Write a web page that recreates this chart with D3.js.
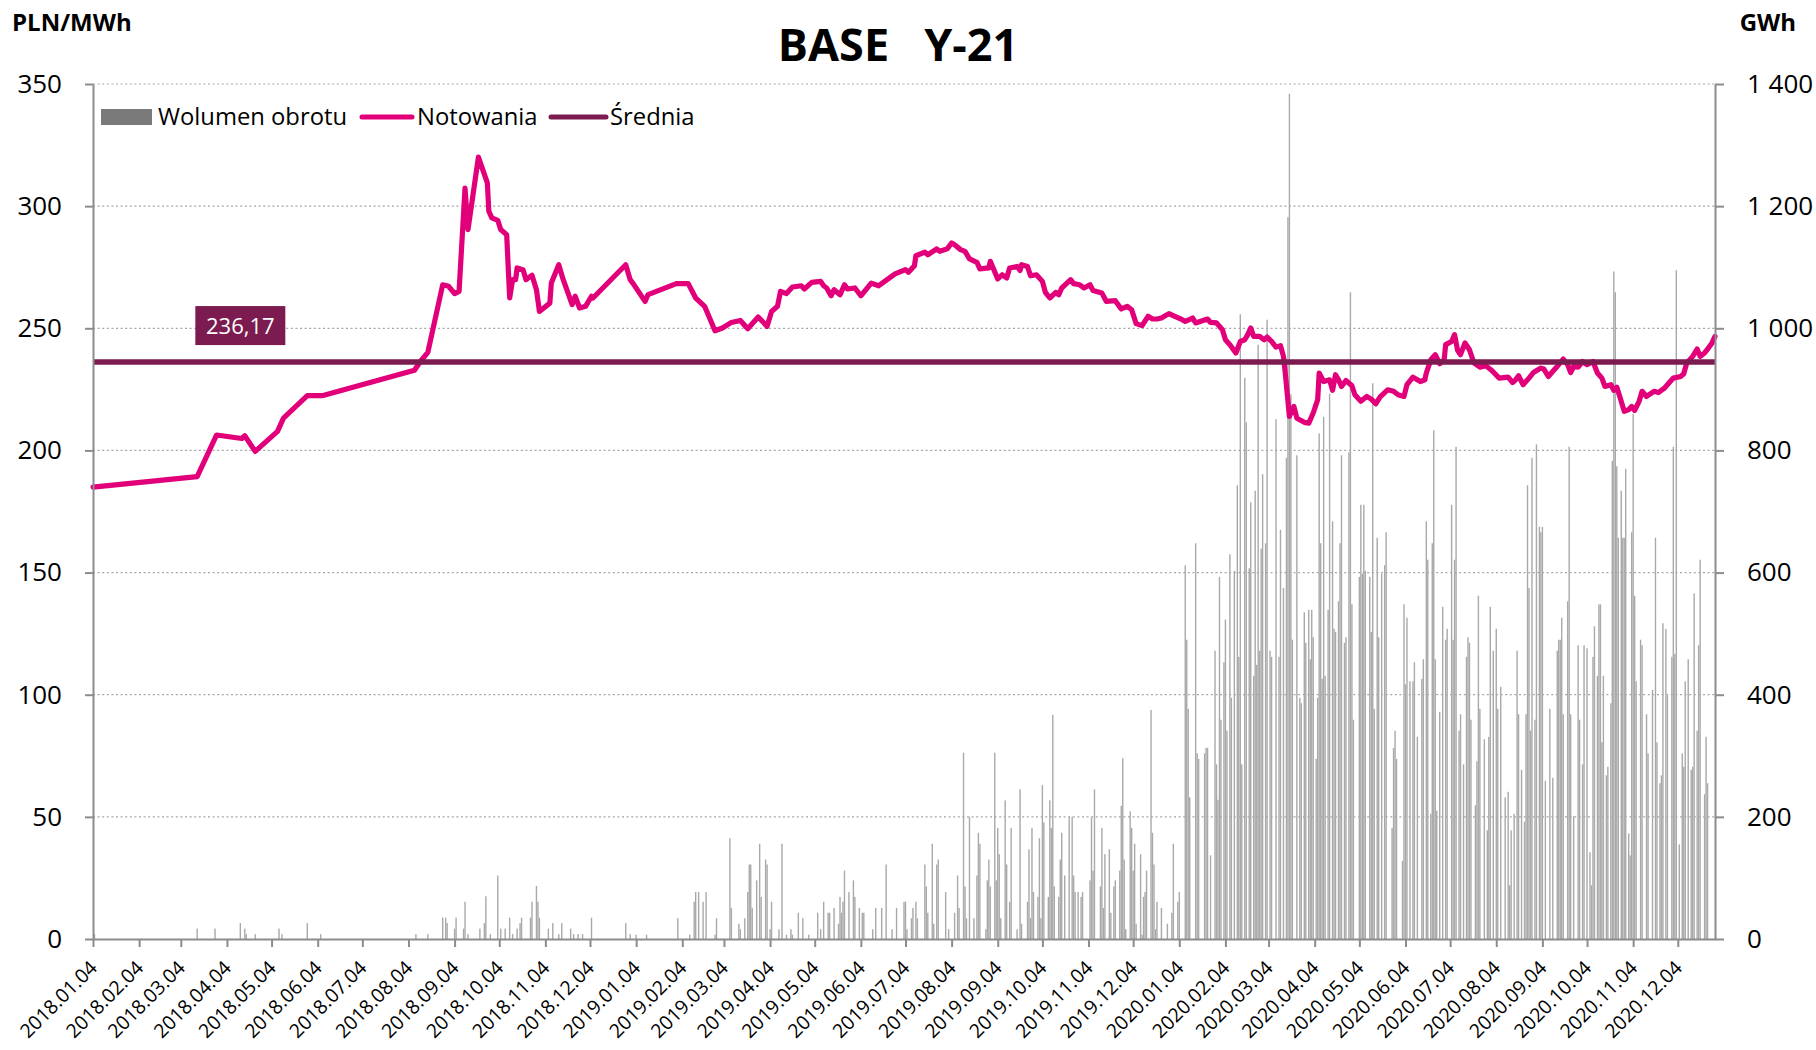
<!DOCTYPE html>
<html>
<head>
<meta charset="utf-8">
<script src="https://cdn.jsdelivr.net/npm/d3@7"></script>
<style>
  body { margin: 0; background: #fff; }
  text { font-family: "Open Sans", "Noto Sans", sans-serif; fill: #000; }
</style>
</head>
<body>
<svg id="chart" width="1816" height="1050"></svg>
<script>
// ---- data -------------------------------------------------------------
const chartTitle = "BASE   Y-21";
const leftUnit = "PLN/MWh";
const rightUnit = "GWh";
const legendLabels = ["Wolumen obrotu", "Notowania", "Średnia"];
const meanValue = 236.17;

const priceTicks = [0, 50, 100, 150, 200, 250, 300, 350];
const volumeTicks = [0, 200, 400, 600, 800, 1000, 1200, 1400];
const monthTickLabels = [
  "2018.01.04","2018.02.04","2018.03.04","2018.04.04","2018.05.04","2018.06.04",
  "2018.07.04","2018.08.04","2018.09.04","2018.10.04","2018.11.04","2018.12.04",
  "2019.01.04","2019.02.04","2019.03.04","2019.04.04","2019.05.04","2019.06.04",
  "2019.07.04","2019.08.04","2019.09.04","2019.10.04","2019.11.04","2019.12.04",
  "2020.01.04","2020.02.04","2020.03.04","2020.04.04","2020.05.04","2020.06.04",
  "2020.07.04","2020.08.04","2020.09.04","2020.10.04","2020.11.04","2020.12.04"
];

// Quotation of the BASE Y-21 contract [date, PLN/MWh]
const quotes = [
  ["2018-01-04",185.0],["2018-03-15",189.3],["2018-03-28",206.3],["2018-04-14",204.9],["2018-04-16",206.0],
  ["2018-04-23",199.6],["2018-05-08",207.8],["2018-05-12",213.2],["2018-05-28",222.4],["2018-06-07",222.4],
  ["2018-08-08",232.8],["2018-08-12",236.4],["2018-08-17",240.1],["2018-08-27",267.8],["2018-08-31",267.2],
  ["2018-09-04",264.2],["2018-09-07",265.1],["2018-09-11",307.4],["2018-09-13",290.4],["2018-09-20",320.1],
  ["2018-09-26",309.5],["2018-09-27",297.9],["2018-09-29",295.2],["2018-10-03",294.2],["2018-10-05",290.4],
  ["2018-10-09",288.3],["2018-10-11",262.4],["2018-10-13",269.9],["2018-10-15",269.9],["2018-10-16",274.7],
  ["2018-10-20",274.0],["2018-10-22",269.9],["2018-10-26",271.7],["2018-10-29",265.8],["2018-10-31",256.9],
  ["2018-11-07",260.3],["2018-11-08",268.5],["2018-11-13",276.0],["2018-11-16",269.9],["2018-11-22",259.7],
  ["2018-11-24",263.1],["2018-11-27",258.3],["2018-12-01",259.0],["2018-12-05",263.1],["2018-12-06",262.4],
  ["2018-12-28",276.0],["2018-12-31",269.9],
  ["2019-01-02",268.3],["2019-01-10",261.0],["2019-01-12",263.8],["2019-01-31",268.3],["2019-02-08",268.3],
  ["2019-02-13",262.4],["2019-02-19",259.0],["2019-02-26",249.0],["2019-03-03",250.1],["2019-03-09",252.4],
  ["2019-03-15",253.2],["2019-03-20",249.8],["2019-03-27",254.6],["2019-04-02",250.8],["2019-04-05",256.9],
  ["2019-04-09",259.0],["2019-04-11",265.1],["2019-04-15",264.2],["2019-04-19",266.9],["2019-04-25",267.4],
  ["2019-04-27",266.1],["2019-05-02",268.8],["2019-05-08",269.2],["2019-05-10",267.4],["2019-05-12",266.5],
  ["2019-05-15",263.3],["2019-05-17",265.8],["2019-05-21",263.7],["2019-05-24",267.8],["2019-05-26",266.1],
  ["2019-05-31",266.5],["2019-06-04",263.3],["2019-06-11",268.5],["2019-06-16",267.4],["2019-06-20",269.2],
  ["2019-06-27",272.3],["2019-07-04",274.0],["2019-07-06",272.9],["2019-07-10",275.6],["2019-07-11",279.7],
  ["2019-07-17",281.2],["2019-07-19",280.1],["2019-07-25",282.5],["2019-07-27",281.5],["2019-08-01",282.5],
  ["2019-08-04",284.9],["2019-08-06",284.2],["2019-08-10",282.2],["2019-08-13",281.5],["2019-08-16",278.4],
  ["2019-08-21",277.0],["2019-08-23",274.3],["2019-08-29",274.7],["2019-08-30",277.4],["2019-09-04",270.2],
  ["2019-09-07",271.9],["2019-09-10",270.6],["2019-09-12",274.7],["2019-09-17",275.3],["2019-09-19",273.7],
  ["2019-09-20",276.0],["2019-09-24",275.3],["2019-09-26",271.5],["2019-09-30",271.9],["2019-10-04",269.2],
  ["2019-10-06",264.7],["2019-10-09",262.4],["2019-10-13",264.7],["2019-10-15",263.7],["2019-10-17",266.5],
  ["2019-10-23",269.9],["2019-10-25",268.3],["2019-10-29",267.8],["2019-11-01",266.5],["2019-11-05",267.8],
  ["2019-11-07",265.5],["2019-11-13",264.4],["2019-11-16",261.0],["2019-11-22",261.3],["2019-11-26",257.9],
  ["2019-11-30",259.0],["2019-12-03",257.6],["2019-12-06",251.9],["2019-12-10",251.1],["2019-12-14",254.9],
  ["2019-12-17",253.8],["2019-12-20",253.8],["2019-12-23",254.2],["2019-12-28",256.0],
  ["2020-01-01",254.9],["2020-01-06",253.5],["2020-01-08",252.8],["2020-01-13",254.2],["2020-01-15",252.2],
  ["2020-01-18",252.8],["2020-01-20",253.2],["2020-01-23",253.8],["2020-01-25",252.4],["2020-01-29",252.2],
  ["2020-02-02",249.4],["2020-02-04",245.3],["2020-02-07",243.3],["2020-02-11",239.9],["2020-02-14",244.6],
  ["2020-02-17",245.3],["2020-02-19",247.4],["2020-02-21",250.1],["2020-02-23",246.7],["2020-02-27",246.7],
  ["2020-03-01",245.3],["2020-03-03",246.4],["2020-03-06",244.6],["2020-03-09",242.3],["2020-03-12",242.9],
  ["2020-03-14",238.5],["2020-03-15",233.0],["2020-03-18",213.9],["2020-03-21",218.0],["2020-03-23",213.2],
  ["2020-03-28",211.5],["2020-03-31",211.2],["2020-04-03",215.3],["2020-04-06",220.8],["2020-04-07",231.7],
  ["2020-04-10",228.2],["2020-04-14",228.9],["2020-04-16",224.6],["2020-04-18",231.0],["2020-04-20",228.9],
  ["2020-04-22",226.2],["2020-04-25",228.6],["2020-04-29",226.5],["2020-05-01",222.8],["2020-05-05",220.1],
  ["2020-05-09",222.1],["2020-05-12",221.0],["2020-05-15",219.1],["2020-05-18",221.9],["2020-05-23",224.8],
  ["2020-05-27",224.2],["2020-05-30",222.8],["2020-06-03",222.1],["2020-06-05",226.9],["2020-06-09",230.0],
  ["2020-06-14",228.2],["2020-06-17",228.9],["2020-06-18",231.7],["2020-06-21",237.1],["2020-06-24",239.2],
  ["2020-06-27",235.5],["2020-06-30",237.1],["2020-07-01",243.3],["2020-07-05",244.6],["2020-07-07",247.4],
  ["2020-07-09",241.0],["2020-07-11",239.2],["2020-07-14",244.0],["2020-07-17",241.2],["2020-07-20",235.8],
  ["2020-07-24",234.1],["2020-07-28",234.7],["2020-08-01",232.7],["2020-08-06",229.6],["2020-08-12",230.0],
  ["2020-08-15",227.8],["2020-08-17",228.9],["2020-08-19",230.6],["2020-08-22",226.9],["2020-08-26",229.6],
  ["2020-08-29",231.9],["2020-09-03",233.7],["2020-09-05",233.3],["2020-09-08",230.3],["2020-09-13",233.7],
  ["2020-09-18",237.4],["2020-09-21",235.1],["2020-09-23",231.9],["2020-09-25",234.4],["2020-09-28",234.1],
  ["2020-10-01",236.4],["2020-10-04",235.1],["2020-10-08",236.4],["2020-10-11",231.7],["2020-10-14",229.6],
  ["2020-10-16",226.2],["2020-10-20",226.9],["2020-10-22",224.6],["2020-10-24",225.9],["2020-10-26",222.1],
  ["2020-10-29",216.0],["2020-11-01",216.7],["2020-11-03",218.0],["2020-11-05",216.4],["2020-11-08",220.1],
  ["2020-11-10",224.2],["2020-11-13",222.1],["2020-11-18",224.2],["2020-11-21",223.7],["2020-11-25",225.5],
  ["2020-11-28",227.6],["2020-12-01",229.6],["2020-12-06",230.3],["2020-12-08",231.4],["2020-12-10",235.8],
  ["2020-12-14",238.5],["2020-12-17",241.5],["2020-12-19",238.5],["2020-12-22",239.9],["2020-12-24",241.5],
  ["2020-12-27",244.0],["2020-12-29",246.7]
];

// Daily traded volume [date, GWh]
const volume2018 = [
  ["2018-01-05",8],["2018-03-15",17],["2018-03-27",17],["2018-04-13",26],["2018-04-16",17],["2018-04-17",8],
  ["2018-04-23",8],["2018-05-09",17],["2018-05-11",8],["2018-05-28",26],["2018-06-06",8],["2018-08-09",8],
  ["2018-08-17",8],["2018-08-27",35],["2018-08-29",35],["2018-08-30",26],["2018-09-04",17],["2018-09-05",35],
  ["2018-09-10",17],["2018-09-11",61],["2018-09-13",8],["2018-09-21",17],["2018-09-24",26],["2018-09-25",70],
  ["2018-09-28",8],["2018-10-03",104],["2018-10-05",17],["2018-10-08",17],["2018-10-11",35],["2018-10-13",8],
  ["2018-10-16",17],["2018-10-18",26],["2018-10-19",35],["2018-10-25",35],["2018-10-26",61],["2018-10-29",87],
  ["2018-10-30",61],["2018-10-31",35],["2018-11-06",17],["2018-11-09",26],["2018-11-13",8],["2018-11-15",26],
  ["2018-11-21",17],["2018-11-23",8],["2018-11-26",8],["2018-11-29",8],["2018-12-05",35],["2018-12-28",26],
  ["2018-12-31",8]
];
const volume2019 = [
  ["2019-01-04",7],["2019-01-11",7],["2019-02-01",34],["2019-02-09",7],["2019-02-12",61],["2019-02-13",77],
  ["2019-02-15",77],["2019-02-18",61],["2019-02-20",77],["2019-02-26",7],["2019-02-27",34],["2019-03-08",165],
  ["2019-03-09",51],["2019-03-14",25],["2019-03-15",16],["2019-03-18",34],["2019-03-20",77],["2019-03-21",122],
  ["2019-03-22",122],["2019-03-23",51],["2019-03-26",96],["2019-03-28",156],["2019-03-29",69],["2019-04-01",130],
  ["2019-04-02",122],["2019-04-04",16],["2019-04-05",61],["2019-04-10",16],["2019-04-12",156],["2019-04-15",7],
  ["2019-04-18",16],["2019-04-19",7],["2019-04-23",43],["2019-04-26",34],["2019-04-30",7],["2019-05-06",43],
  ["2019-05-08",16],["2019-05-10",61],["2019-05-13",43],["2019-05-14",43],["2019-05-17",51],["2019-05-20",25],
  ["2019-05-21",69],["2019-05-22",43],["2019-05-23",61],["2019-05-24",112],["2019-05-27",77],["2019-05-30",96],
  ["2019-05-31",69],["2019-06-03",51],["2019-06-05",43],["2019-06-06",43],["2019-06-12",16],["2019-06-14",51],
  ["2019-06-18",51],["2019-06-21",122],["2019-06-25",16],["2019-06-28",51],["2019-07-03",61],["2019-07-04",61],
  ["2019-07-05",16],["2019-07-08",34],["2019-07-09",51],["2019-07-11",61],["2019-07-12",34],["2019-07-17",122],
  ["2019-07-18",86],["2019-07-19",43],["2019-07-22",156],["2019-07-23",25],["2019-07-25",122],["2019-07-26",130],
  ["2019-07-31",77],["2019-08-02",16],["2019-08-06",43],["2019-08-08",104],["2019-08-09",51],["2019-08-12",305],
  ["2019-08-13",86],["2019-08-14",34],["2019-08-16",200],["2019-08-19",34],["2019-08-21",104],["2019-08-22",174],
  ["2019-08-23",156],["2019-08-27",16],["2019-08-28",96],["2019-08-29",130],["2019-08-30",86],["2019-09-02",305],
  ["2019-09-03",96],["2019-09-04",182],["2019-09-05",139],["2019-09-06",34],["2019-09-09",227],["2019-09-10",122],
  ["2019-09-12",61],["2019-09-13",182],["2019-09-17",16],["2019-09-19",245],["2019-09-20",25],["2019-09-24",61],
  ["2019-09-25",147],["2019-09-26",34],["2019-09-27",182],["2019-09-28",77],["2019-10-01",69],["2019-10-02",165],
  ["2019-10-03",34],["2019-10-04",252],["2019-10-05",191],["2019-10-08",69],["2019-10-09",227],["2019-10-10",182],
  ["2019-10-11",367],["2019-10-12",86],["2019-10-15",69],["2019-10-16",130],["2019-10-17",174],["2019-10-19",104],
  ["2019-10-22",200],["2019-10-24",200],["2019-10-25",104],["2019-10-26",77],["2019-10-28",77],["2019-10-30",69],
  ["2019-10-31",77],["2019-11-05",96],["2019-11-06",200],["2019-11-07",112],["2019-11-08",245],["2019-11-12",86],
  ["2019-11-13",182],["2019-11-14",51],["2019-11-15",139],["2019-11-18",147],["2019-11-19",43],["2019-11-21",86],
  ["2019-11-22",96],["2019-11-25",112],["2019-11-26",218],["2019-11-27",296],["2019-11-28",130],["2019-11-29",16],
  ["2019-12-02",209],["2019-12-03",182],["2019-12-04",112],["2019-12-05",156],["2019-12-06",25],["2019-12-09",139],
  ["2019-12-10",7],["2019-12-11",69],["2019-12-12",77],["2019-12-13",112],["2019-12-16",375],["2019-12-17",174],
  ["2019-12-18",122],["2019-12-19",16],["2019-12-20",61],["2019-12-23",51],["2019-12-27",25],["2019-12-30",43],
  ["2019-12-31",156]
];
const volume2020 = [
  ["2020-01-03",61],["2020-01-04",77],["2020-01-08",612],["2020-01-09",490],["2020-01-10",377],["2020-01-11",232],
  ["2020-01-15",648],["2020-01-16",304],["2020-01-17",295],["2020-01-21",304],["2020-01-22",313],["2020-01-23",313],
  ["2020-01-25",137],["2020-01-28",472],["2020-01-29",286],["2020-01-30",228],["2020-01-31",593],["2020-02-01",359],
  ["2020-02-03",453],["2020-02-04",523],["2020-02-05",341],["2020-02-07",630],["2020-02-08",395],["2020-02-10",603],
  ["2020-02-12",743],["2020-02-13",462],["2020-02-14",1023],["2020-02-15",286],["2020-02-17",919],["2020-02-18",846],
  ["2020-02-20",607],["2020-02-21",715],["2020-02-23",431],["2020-02-24",734],["2020-02-25",449],["2020-02-26",973],
  ["2020-02-27",472],["2020-02-28",639],["2020-02-29",761],["2020-03-02",648],["2020-03-03",1014],["2020-03-05",472],
  ["2020-03-06",462],["2020-03-09",851],["2020-03-11",462],["2020-03-12",670],["2020-03-14",575],["2020-03-16",788],
  ["2020-03-17",1182],["2020-03-18",1384],["2020-03-19",892],["2020-03-20",490],["2020-03-23",792],["2020-03-25",395],
  ["2020-03-26",386],["2020-03-28",535],["2020-03-29",485],["2020-03-31",539],["2020-04-01",458],["2020-04-02",539],
  ["2020-04-03",494],["2020-04-05",295],["2020-04-06",395],["2020-04-07",828],["2020-04-08",648],["2020-04-09",426],
  ["2020-04-10",855],["2020-04-11",431],["2020-04-13",539],["2020-04-14",893],["2020-04-16",684],["2020-04-17",508],
  ["2020-04-18",503],["2020-04-20",553],["2020-04-21",648],["2020-04-22",792],["2020-04-24",485],["2020-04-25",494],
  ["2020-04-27",797],["2020-04-28",1059],["2020-04-29",548],["2020-04-30",359],["2020-05-04",593],["2020-05-05",711],
  ["2020-05-06",598],["2020-05-07",711],["2020-05-08",603],["2020-05-11",593],["2020-05-12",503],["2020-05-13",910],
  ["2020-05-14",377],["2020-05-16",657],["2020-05-17",494],["2020-05-19",598],["2020-05-21",612],["2020-05-22",666],
  ["2020-05-26",182],["2020-05-27",313],["2020-05-28",341],["2020-05-29",295],["2020-06-02",128],["2020-06-03",548],
  ["2020-06-04",417],["2020-06-05",526],["2020-06-07",422],["2020-06-09",422],["2020-06-10",453],["2020-06-12",331],
  ["2020-06-15",426],["2020-06-16",458],["2020-06-18",684],["2020-06-19",621],["2020-06-21",205],["2020-06-22",648],
  ["2020-06-23",833],["2020-06-24",458],["2020-06-25",210],["2020-06-27",372],["2020-06-29",544],["2020-07-01",490],
  ["2020-07-02",508],["2020-07-05",711],["2020-07-06",490],["2020-07-07",621],["2020-07-08",806],["2020-07-10",341],
  ["2020-07-11",368],["2020-07-13",286],["2020-07-15",462],["2020-07-16",494],["2020-07-17",485],["2020-07-18",359],
  ["2020-07-21",219],["2020-07-22",291],["2020-07-23",562],["2020-07-24",377],["2020-07-27",327],["2020-07-29",178],
  ["2020-07-30",331],["2020-07-31",544],["2020-08-02",472],["2020-08-04",508],["2020-08-05",377],["2020-08-07",413],
  ["2020-08-10",232],["2020-08-12",241],["2020-08-13",88],["2020-08-14",178],["2020-08-16",205],["2020-08-18",472],
  ["2020-08-19",368],["2020-08-21",277],["2020-08-23",192],["2020-08-24",368],["2020-08-25",743],["2020-08-26",575],
  ["2020-08-27",341],["2020-08-28",788],["2020-08-30",359],["2020-08-31",810],["2020-09-02",675],["2020-09-03",666],
  ["2020-09-04",675],["2020-09-06",259],["2020-09-09",377],["2020-09-11",264],["2020-09-14",472],["2020-09-15",490],
  ["2020-09-16",490],["2020-09-17",526],["2020-09-18",368],["2020-09-21",553],["2020-09-22",806],["2020-09-23",368],
  ["2020-09-25",201],["2020-09-28",481],["2020-09-29",359],["2020-10-01",286],["2020-10-02",481],["2020-10-04",476],
  ["2020-10-06",142],["2020-10-07",88],["2020-10-08",462],["2020-10-09",512],["2020-10-11",431],["2020-10-12",548],
  ["2020-10-13",548],["2020-10-14",322],["2020-10-15",431],["2020-10-17",268],["2020-10-18",282],["2020-10-20",386],
  ["2020-10-21",783],["2020-10-22",1093],["2020-10-23",1059],["2020-10-24",774],["2020-10-25",657],["2020-10-27",734],
  ["2020-10-28",657],["2020-10-29",657],["2020-10-30",770],["2020-11-01",173],["2020-11-02",137],["2020-11-03",666],
  ["2020-11-04",860],["2020-11-05",562],["2020-11-06",422],["2020-11-09",490],["2020-11-10",481],["2020-11-13",368],
  ["2020-11-14",304],["2020-11-17",408],["2020-11-19",657],["2020-11-20",322],["2020-11-22",255],["2020-11-23",268],
  ["2020-11-24",517],["2020-11-26",508],["2020-11-27",399],["2020-11-30",462],["2020-12-01",806],["2020-12-02",467],
  ["2020-12-03",1095],["2020-12-05",155],["2020-12-07",304],["2020-12-08",282],["2020-12-09",422],["2020-12-11",458],
  ["2020-12-13",277],["2020-12-14",282],["2020-12-15",566],["2020-12-17",341],["2020-12-18",481],["2020-12-19",621],
  ["2020-12-22",237],["2020-12-23",331],["2020-12-24",255]
];

// ---- chart -----------------------------------------------------------
const svg = d3.select("#chart");
const parseDay = d3.timeParse("%Y-%m-%d");
const parseTick = d3.timeParse("%Y.%m.%d");
const plot = { left: 93, right: 1715, top: 84, bottom: 939 };

const colors = {
  bar: "#a9a9a9",
  legendBar: "#7a7a7a",
  price: "#e2007a",
  mean: "#7b1b50",
  axis: "#8c8c8c",
  grid: "#a6a6a6"
};

const x = d3.scaleTime()
  .domain([parseDay("2018-01-04"), parseDay("2020-12-29")])
  .range([plot.left, plot.right]);
const y = d3.scaleLinear().domain([0, 350]).range([plot.bottom, plot.top]);
const yVol = d3.scaleLinear().domain([0, 1400]).range([plot.bottom, plot.top]);

const spaced = d3.formatLocale({ decimal: ",", thousands: " ", grouping: [3], currency: ["", " zł"] });
const fmtVol = spaced.format(",d");
const fmtMean = spaced.format(".2f");

// dotted horizontal gridlines
svg.append("g").selectAll("line")
  .data(priceTicks.filter(v => v > 0))
  .join("line")
  .attr("x1", plot.left).attr("x2", plot.right)
  .attr("y1", d => y(d)).attr("y2", d => y(d))
  .attr("stroke", colors.grid).attr("stroke-width", 1.2)
  .attr("stroke-dasharray", "2,2.6");

// volume bars (right axis)
const volumes = [...volume2018, ...volume2019, ...volume2020];
svg.append("g").selectAll("rect")
  .data(volumes)
  .join("rect")
  .attr("x", d => x(parseDay(d[0])) - 0.7)
  .attr("width", 1.4)
  .attr("y", d => yVol(d[1]))
  .attr("height", d => plot.bottom - yVol(d[1]))
  .attr("fill", colors.bar);

// price line
const line = d3.line()
  .x(d => x(parseDay(d[0])))
  .y(d => y(d[1]));
svg.append("path")
  .datum(quotes)
  .attr("d", line)
  .attr("fill", "none")
  .attr("stroke", colors.price)
  .attr("stroke-width", 5.2)
  .attr("stroke-linejoin", "round")
  .attr("stroke-linecap", "round");

// average line
svg.append("line")
  .attr("x1", plot.left).attr("x2", plot.right)
  .attr("y1", y(meanValue)).attr("y2", y(meanValue))
  .attr("stroke", colors.mean).attr("stroke-width", 5.4);

// average value tag
const tag = svg.append("g").attr("transform", `translate(${x(parseDay("2018-04-13"))},${y(meanValue) - 56})`);
tag.append("rect").attr("x", -45).attr("y", 0).attr("width", 90).attr("height", 39).attr("fill", colors.mean);
tag.append("text").attr("x", 0).attr("y", 20).attr("dy", "0.35em")
  .attr("text-anchor", "middle").style("font-size", "22px").style("fill", "#fff")
  .text(fmtMean(meanValue));

// axes
function styleAxis(g) {
  g.select(".domain").attr("stroke", colors.axis).attr("stroke-width", 2);
  g.selectAll(".tick line").attr("stroke", colors.axis).attr("stroke-width", 2);
  g.selectAll(".tick text").style("font-family", '"Open Sans", "Noto Sans", sans-serif').attr("fill", "#000");
}

const gLeft = svg.append("g")
  .attr("transform", `translate(${plot.left},0)`)
  .call(d3.axisLeft(y).tickValues(priceTicks).tickSize(8).tickSizeOuter(0).tickPadding(23))
  .call(styleAxis);
gLeft.selectAll(".tick text").style("font-size", "26px");

const gRight = svg.append("g")
  .attr("transform", `translate(${plot.right},0)`)
  .call(d3.axisRight(yVol).tickValues(volumeTicks).tickSize(9).tickSizeOuter(0).tickPadding(23).tickFormat(fmtVol))
  .call(styleAxis);
gRight.selectAll(".tick text").style("font-size", "26px");

const monthTicks = monthTickLabels.map(parseTick);
const gBottom = svg.append("g")
  .attr("transform", `translate(0,${plot.bottom})`)
  .call(d3.axisBottom(x).tickValues(monthTicks).tickSize(8).tickSizeOuter(0)
    .tickFormat((d, i) => monthTickLabels[i]))
  .call(styleAxis);
gBottom.selectAll(".tick text")
  .style("font-size", "19.5px")
  .attr("text-anchor", "end")
  .attr("dy", null)
  .attr("y", null)
  .attr("transform", "translate(5,30) rotate(-45)");

// titles and units
svg.append("text")
  .attr("x", 898).attr("y", 61)
  .attr("text-anchor", "middle")
  .style("font-size", "45px").style("font-weight", 700).style("white-space", "pre")
  .text(chartTitle);
svg.append("text").attr("x", 12).attr("y", 31)
  .style("font-size", "24px").style("font-weight", 700).text(leftUnit);
svg.append("text").attr("x", 1796).attr("y", 31).attr("text-anchor", "end")
  .style("font-size", "24px").style("font-weight", 700).text(rightUnit);

// legend
const legend = svg.append("g").attr("transform", "translate(101,117)");
legend.append("rect").attr("x", 0).attr("y", -8).attr("width", 51).attr("height", 16).attr("fill", colors.legendBar);
legend.append("text").attr("x", 57).attr("y", 0).attr("dy", "0.35em").style("font-size", "23.8px").text(legendLabels[0]);
legend.append("line").attr("x1", 261).attr("x2", 311).attr("y1", 0).attr("y2", 0)
  .attr("stroke", colors.price).attr("stroke-width", 5).attr("stroke-linecap", "round");
legend.append("text").attr("x", 316).attr("y", 0).attr("dy", "0.35em").style("font-size", "23.8px").text(legendLabels[1]);
legend.append("line").attr("x1", 450).attr("x2", 505).attr("y1", 0).attr("y2", 0)
  .attr("stroke", colors.mean).attr("stroke-width", 5).attr("stroke-linecap", "round");
legend.append("text").attr("x", 509).attr("y", 0).attr("dy", "0.35em").style("font-size", "23.8px").text(legendLabels[2]);
</script>
</body>
</html>
